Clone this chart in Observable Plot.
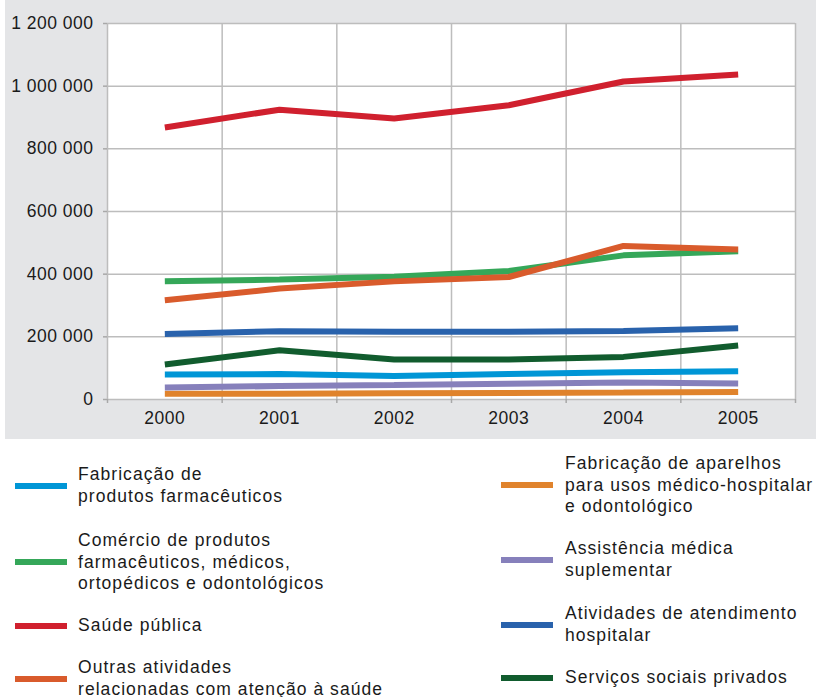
<!DOCTYPE html>
<html>
<head>
<meta charset="utf-8">
<script src="https://cdn.jsdelivr.net/npm/d3@7"></script>
<script src="https://cdn.jsdelivr.net/npm/@observablehq/plot@0.6"></script>
<style>
  html, body { margin: 0; padding: 0; background: #fff; }
  #page { position: relative; width: 816px; height: 697px; overflow: hidden; font-family: "Liberation Sans", Arial, sans-serif; color: #1a1a1a; }
  #panel { position: absolute; left: 5px; top: 0; width: 811px; height: 439px; background: #e4e5e7; }
  #panel svg { display: block; }
  .item { position: absolute; display: flex; align-items: center; }
  .sw { width: 52px; height: 6px; flex: none; }
  .lab { font-size: 17.5px; line-height: 21.5px; letter-spacing: 1.05px; white-space: nowrap; }
</style>
</head>
<body>
<div id="page">
  <div id="panel"></div>
  <div id="legend"></div>
</div>
<script>
// ---- data ----
const years = [2000, 2001, 2002, 2003, 2004, 2005];
const yTicks = [0, 200000, 400000, 600000, 800000, 1000000, 1200000];

const seriesNames = [
  "Fabricação de produtos farmacêuticos",
  "Comércio de produtos farmacêuticos, médicos, ortopédicos e odontológicos",
  "Saúde pública",
  "Outras atividades relacionadas com atenção à saúde",
  "Fabricação de aparelhos para usos médico-hospitalar e odontológico",
  "Assistência médica suplementar",
  "Atividades de atendimento hospitalar",
  "Serviços sociais privados"
];
const seriesColors = ["#0096d6", "#35a759", "#d0202e", "#d95b2c", "#e0832c", "#8680bb", "#2962ac", "#115c2e"];

const fabricacaoFarmaceuticos = [80000, 81000, 75000, 81000, 87000, 90000];
const comercioProdutos        = [377000, 383000, 392000, 410000, 460000, 473000];
const saudePublica            = [868000, 925000, 897000, 939000, 1015000, 1037000];
const outrasAtividades        = [317000, 354000, 377000, 391000, 490000, 479000];
const fabricacaoAparelhos     = [18000, 18000, 20000, 21000, 22000, 24000];
const assistenciaMedica       = [38000, 43000, 46000, 50000, 54000, 51000];
const atendimentoHospitalar   = [209000, 218000, 216000, 216000, 219000, 227000];
const servicosSociais         = [112000, 157000, 128000, 128000, 136000, 172000];

const seriesValues = [fabricacaoFarmaceuticos, comercioProdutos, saudePublica, outrasAtividades,
                      fabricacaoAparelhos, assistenciaMedica, atendimentoHospitalar, servicosSociais];

const legendLines = [
  ["Fabricação de", "produtos farmacêuticos"],
  ["Comércio de produtos", "farmacêuticos, médicos,", "ortopédicos e odontológicos"],
  ["Saúde pública"],
  ["Outras atividades", "relacionadas com atenção à saúde"],
  ["Fabricação de aparelhos", "para usos médico-hospitalar", "e odontológico"],
  ["Assistência médica", "suplementar"],
  ["Atividades de atendimento", "hospitalar"],
  ["Serviços sociais privados"]
];

// ---- build ----
const drawOrder = [4, 5, 0, 7, 6, 1, 3, 2];
const rows = [];
for (const s of drawOrder) {
  years.forEach((yr, i) => rows.push({year: yr, value: seriesValues[s][i], series: seriesNames[s]}));
}
const bounds = d3.range(years[0] - 0.5, years[years.length - 1] + 1, 1);
const loc = d3.formatLocale({decimal: ",", thousands: " ", grouping: [3], currency: ["", ""]});
const fmt = loc.format(",d");
const gridColor = "#bdbdbd";

const chart = Plot.plot({
  width: 811,
  height: 439,
  marginLeft: 102,
  marginRight: 21,
  marginTop: 23,
  marginBottom: 40,
  style: {background: "transparent", fontFamily: "'Liberation Sans', Arial, sans-serif", fontSize: "17.5px", color: "#1a1a1a", letterSpacing: "0.5px"},
  x: {domain: [bounds[0], bounds[bounds.length - 1]], axis: null},
  y: {domain: [0, 1200000], axis: null},
  color: {domain: seriesNames, range: seriesColors},
  marks: [
    Plot.frame({fill: "white", stroke: null}),
    Plot.ruleY(yTicks, {stroke: gridColor, strokeWidth: 1.5}),
    Plot.ruleX(bounds, {stroke: gridColor, strokeWidth: 1.5}),
    Plot.line(rows, {x: "year", y: "value", z: "series", stroke: "series", strokeWidth: 6, strokeLinecap: "butt", strokeLinejoin: "miter"}),
    Plot.axisY(yTicks, {label: null, tickSize: 4, tickPadding: 10, tickFormat: fmt, stroke: "#a8a8a8", strokeWidth: 1.5, fill: "#1a1a1a", fontSize: 17.5}),
    Plot.axisX(bounds, {label: null, tickSize: 4, tickFormat: () => "", stroke: "#a8a8a8", strokeWidth: 1.5}),
    Plot.axisX(years, {label: null, tickSize: 0, tickPadding: 12, tickFormat: d => String(d), fill: "#1a1a1a", fontSize: 17.5})
  ]
});
document.getElementById("panel").appendChild(chart);

// ---- legend ----
const legendPos = [
  {left: 15, top: 464}, {left: 15, top: 530}, {left: 15, top: 615}, {left: 15, top: 657},
  {left: 501, top: 453}, {left: 501, top: 538}, {left: 501, top: 603}, {left: 501, top: 667}
];
const legend = document.getElementById("legend");
legendLines.forEach((lines, i) => {
  const item = document.createElement("div");
  item.className = "item";
  item.style.left = legendPos[i].left + "px";
  item.style.top = legendPos[i].top + "px";
  const sw = document.createElement("div");
  sw.className = "sw";
  sw.style.background = seriesColors[i];
  sw.style.marginRight = (i < 4 ? 11 : 12) + "px";
  const lab = document.createElement("div");
  lab.className = "lab";
  lines.forEach((t, k) => {
    if (k) lab.appendChild(document.createElement("br"));
    lab.appendChild(document.createTextNode(t));
  });
  item.appendChild(sw);
  item.appendChild(lab);
  legend.appendChild(item);
});
</script>
</body>
</html>
